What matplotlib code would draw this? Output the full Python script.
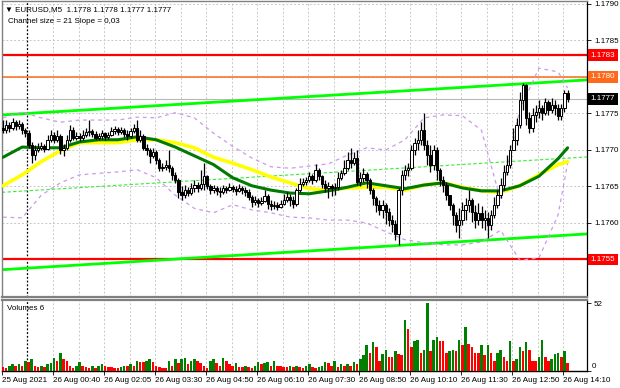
import numpy as np
import matplotlib.pyplot as plt

plt.rcParams['font.family'] = ['Liberation Sans', 'DejaVu Sans']
FS = 5.8

# ---- price data (EURUSD M5) ----
first_open = 1.17730
closes = [
    1.17727, 1.17734, 1.17730, 1.17738, 1.17733, 1.17736, 1.17727, 1.17723, 1.17707, 1.17693,
    1.17700, 1.17703, 1.17705, 1.17701, 1.17714, 1.17721, 1.17714, 1.17719, 1.17700, 1.17703,
    1.17714, 1.17727, 1.17716, 1.17719, 1.17716, 1.17721, 1.17725, 1.17726, 1.17722, 1.17716,
    1.17719, 1.17723, 1.17718, 1.17721, 1.17726, 1.17729, 1.17725, 1.17727, 1.17722, 1.17719,
    1.17726, 1.17730, 1.17714, 1.17719, 1.17703, 1.17700, 1.17692, 1.17697, 1.17686, 1.17675,
    1.17677, 1.17679, 1.17675, 1.17666, 1.17659, 1.17642, 1.17638, 1.17645, 1.17641, 1.17648,
    1.17652, 1.17648, 1.17653, 1.17664, 1.17651, 1.17645, 1.17648, 1.17644, 1.17642, 1.17648,
    1.17645, 1.17649, 1.17647, 1.17644, 1.17648, 1.17645, 1.17642, 1.17636, 1.17629, 1.17631,
    1.17627, 1.17630, 1.17637, 1.17626, 1.17623, 1.17625, 1.17622, 1.17626, 1.17631, 1.17636,
    1.17631, 1.17626, 1.17645, 1.17653, 1.17656, 1.17659, 1.17664, 1.17659, 1.17673, 1.17664,
    1.17653, 1.17648, 1.17651, 1.17648, 1.17649, 1.17662, 1.17668, 1.17675, 1.17686, 1.17682,
    1.17689, 1.17656, 1.17662, 1.17667, 1.17659, 1.17645, 1.17634, 1.17625, 1.17618, 1.17625,
    1.17615, 1.17604, 1.17599, 1.17585, 1.17645, 1.17666, 1.17673, 1.17675, 1.17700, 1.17710,
    1.17714, 1.17727, 1.17707, 1.17693, 1.17679, 1.17700, 1.17673, 1.17659, 1.17652, 1.17638,
    1.17625, 1.17611, 1.17597, 1.17604, 1.17618, 1.17625, 1.17631, 1.17615, 1.17604, 1.17614,
    1.17604, 1.17607, 1.17597, 1.17611, 1.17625, 1.17638, 1.17652, 1.17670, 1.17679, 1.17700,
    1.17714, 1.17734, 1.17768, 1.17789, 1.17744, 1.17730, 1.17748, 1.17752, 1.17757, 1.17751,
    1.17766, 1.17755, 1.17762, 1.17757, 1.17747, 1.17757, 1.17778, 1.17770,
]
highs = [
    1.17741, 1.17741, 1.17738, 1.17744, 1.17741, 1.17741, 1.17738, 1.17730, 1.17727, 1.17711,
    1.17707, 1.17710, 1.17711, 1.17708, 1.17721, 1.17727, 1.17725, 1.17727, 1.17722, 1.17708,
    1.17721, 1.17734, 1.17731, 1.17725, 1.17723, 1.17727, 1.17730, 1.17741, 1.17729, 1.17726,
    1.17723, 1.17727, 1.17725, 1.17725, 1.17731, 1.17733, 1.17731, 1.17731, 1.17730, 1.17727,
    1.17730, 1.17736, 1.17741, 1.17727, 1.17722, 1.17708, 1.17703, 1.17703, 1.17700, 1.17689,
    1.17682, 1.17686, 1.17700, 1.17678, 1.17670, 1.17662, 1.17651, 1.17652, 1.17649, 1.17655,
    1.17659, 1.17656, 1.17673, 1.17682, 1.17666, 1.17653, 1.17652, 1.17651, 1.17649, 1.17652,
    1.17651, 1.17655, 1.17652, 1.17651, 1.17653, 1.17651, 1.17649, 1.17647, 1.17638, 1.17637,
    1.17634, 1.17636, 1.17645, 1.17640, 1.17631, 1.17630, 1.17629, 1.17631, 1.17640, 1.17642,
    1.17640, 1.17637, 1.17648, 1.17662, 1.17662, 1.17663, 1.17670, 1.17667, 1.17681, 1.17675,
    1.17666, 1.17659, 1.17656, 1.17653, 1.17655, 1.17670, 1.17673, 1.17686, 1.17697, 1.17703,
    1.17697, 1.17700, 1.17670, 1.17675, 1.17670, 1.17662, 1.17648, 1.17637, 1.17631, 1.17631,
    1.17627, 1.17620, 1.17611, 1.17604, 1.17648, 1.17673, 1.17679, 1.17682, 1.17707, 1.17716,
    1.17727, 1.17738, 1.17751, 1.17714, 1.17707, 1.17707, 1.17704, 1.17675, 1.17664, 1.17656,
    1.17638, 1.17627, 1.17615, 1.17620, 1.17629, 1.17634, 1.17645, 1.17634, 1.17625, 1.17627,
    1.17623, 1.17618, 1.17615, 1.17618, 1.17636, 1.17645, 1.17662, 1.17679, 1.17693, 1.17707,
    1.17730, 1.17744, 1.17779, 1.17792, 1.17790, 1.17752, 1.17757, 1.17762, 1.17768, 1.17762,
    1.17771, 1.17768, 1.17771, 1.17768, 1.17763, 1.17763, 1.17782, 1.17782,
]
lows = [
    1.17723, 1.17723, 1.17725, 1.17727, 1.17727, 1.17729, 1.17722, 1.17718, 1.17703, 1.17682,
    1.17686, 1.17697, 1.17700, 1.17697, 1.17700, 1.17711, 1.17710, 1.17711, 1.17694, 1.17692,
    1.17700, 1.17711, 1.17714, 1.17714, 1.17712, 1.17714, 1.17718, 1.17719, 1.17718, 1.17714,
    1.17714, 1.17715, 1.17714, 1.17715, 1.17719, 1.17722, 1.17721, 1.17722, 1.17718, 1.17714,
    1.17716, 1.17723, 1.17711, 1.17711, 1.17700, 1.17693, 1.17682, 1.17689, 1.17681, 1.17671,
    1.17671, 1.17673, 1.17670, 1.17659, 1.17655, 1.17634, 1.17631, 1.17634, 1.17637, 1.17638,
    1.17642, 1.17642, 1.17645, 1.17645, 1.17647, 1.17640, 1.17641, 1.17638, 1.17636, 1.17640,
    1.17641, 1.17644, 1.17642, 1.17638, 1.17642, 1.17640, 1.17637, 1.17631, 1.17622, 1.17625,
    1.17622, 1.17625, 1.17629, 1.17619, 1.17618, 1.17619, 1.17618, 1.17620, 1.17625, 1.17629,
    1.17623, 1.17620, 1.17623, 1.17642, 1.17651, 1.17652, 1.17656, 1.17653, 1.17656, 1.17659,
    1.17648, 1.17642, 1.17634, 1.17637, 1.17638, 1.17645, 1.17659, 1.17666, 1.17673, 1.17675,
    1.17679, 1.17652, 1.17651, 1.17656, 1.17648, 1.17640, 1.17625, 1.17615, 1.17611, 1.17607,
    1.17599, 1.17596, 1.17588, 1.17577, 1.17570, 1.17638, 1.17659, 1.17664, 1.17673, 1.17693,
    1.17700, 1.17707, 1.17700, 1.17679, 1.17670, 1.17673, 1.17659, 1.17651, 1.17642, 1.17631,
    1.17618, 1.17597, 1.17588, 1.17579, 1.17597, 1.17604, 1.17615, 1.17601, 1.17593, 1.17597,
    1.17593, 1.17590, 1.17579, 1.17590, 1.17607, 1.17620, 1.17634, 1.17645, 1.17666, 1.17675,
    1.17700, 1.17707, 1.17730, 1.17755, 1.17734, 1.17723, 1.17725, 1.17738, 1.17744, 1.17741,
    1.17748, 1.17748, 1.17751, 1.17748, 1.17741, 1.17741, 1.17752, 1.17766,
]
volumes = [
    3, 2, 4, 5, 4, 5, 4, 8, 7, 9,
    4, 3, 4, 3, 5, 6, 10, 8, 14, 9,
    8, 4, 2, 4, 7, 4, 3, 2, 4, 2,
    4, 5, 4, 3, 3, 2, 2, 3, 4, 4,
    5, 4, 8, 7, 7, 8, 9, 7, 4, 3,
    2, 2, 8, 4, 9, 6, 9, 10, 5, 8,
    9, 8, 6, 4, 2, 8, 9, 6, 4, 10,
    8, 5, 4, 6, 3, 3, 4, 3, 2, 4,
    7, 5, 6, 7, 4, 8, 4, 4, 3, 3,
    4, 3, 4, 3, 2, 4, 5, 3, 2, 3,
    4, 7, 6, 4, 8, 3, 5, 4, 5, 4,
    7, 5, 9, 12, 20, 14, 22, 18, 8, 13,
    16, 11, 11, 15, 13, 12, 39, 32, 18, 23,
    24, 14, 16, 52, 15, 24, 26, 23, 23, 14,
    15, 16, 15, 24, 20, 34, 21, 18, 14, 14,
    20, 12, 20, 14, 8, 14, 16, 11, 8, 23,
    8, 9, 18, 15, 22, 16, 8, 8, 11, 24,
    11, 8, 9, 13, 14, 11, 15, 6,
]

# indicator lines, sampled every 6 bars
ind_bars = [0, 6, 12, 18, 24, 30, 36, 42, 48, 54, 60, 66, 72, 78, 84, 90,
            96, 102, 108, 114, 120, 126, 132, 138, 144, 150, 156, 162, 168, 174, 177]
ma_green = [1.17690, 1.17704, 1.17703, 1.17703, 1.17711, 1.17714, 1.17714, 1.17718,
            1.17714, 1.17704, 1.17692, 1.17680, 1.17662, 1.17651, 1.17645, 1.17641,
            1.17640, 1.17644, 1.17649, 1.17655, 1.17651, 1.17647, 1.17652, 1.17655,
            1.17648, 1.17644, 1.17644, 1.17651, 1.17664, 1.17688, 1.17703]
ma_yellow = [1.17651, 1.17666, 1.17684, 1.17699, 1.17710, 1.17710, 1.17710, 1.17714,
             1.17714, 1.17710, 1.17703, 1.17690, 1.17682, 1.17673, 1.17663, 1.17655,
             1.17647, 1.17645, 1.17648, 1.17649, 1.17649, 1.17645, 1.17652, 1.17655,
             1.17649, 1.17644, 1.17642, 1.17651, 1.17666, 1.17680, 1.17684]
bb_upper = [1.17744, 1.17752, 1.17744, 1.17738, 1.17741, 1.17741, 1.17741, 1.17745,
            1.17744, 1.17751, 1.17744, 1.17723, 1.17705, 1.17689, 1.17677, 1.17675,
            1.17678, 1.17681, 1.17693, 1.17703, 1.17700, 1.17714, 1.17744, 1.17748,
            1.17747, 1.17727, 1.17631, 1.17755, 1.17812, 1.17807, 1.17785]
bb_lower = [1.17608, 1.17607, 1.17638, 1.17655, 1.17666, 1.17668, 1.17670, 1.17673,
            1.17662, 1.17638, 1.17620, 1.17614, 1.17625, 1.17618, 1.17614, 1.17608,
            1.17607, 1.17604, 1.17604, 1.17600, 1.17588, 1.17577, 1.17573, 1.17570,
            1.17570, 1.17574, 1.17590, 1.17549, 1.17552, 1.17611, 1.17682]

# channel (left edge, right edge) and horizontal levels
chan_upper = [1.17748, 1.17796]
chan_lower = [1.17536, 1.17585]
level_red = [1.1783, 1.1755]
level_orange = 1.1780
last_price = 1.1777

price_ticks = [1.1790, 1.1785, 1.1775, 1.1770, 1.1765, 1.1760]
time_labels = ['26 Aug 00:40', '26 Aug 02:05', '26 Aug 03:30', '26 Aug 04:50',
               '26 Aug 06:10', '26 Aug 07:30', '26 Aug 08:50', '26 Aug 10:10',
               '26 Aug 11:30', '26 Aug 12:50', '26 Aug 14:10']

# ---- figure ----
W, H = 620, 388
fig = plt.figure(figsize=(W / 100, H / 100), dpi=100)


def px_axes(x0, y0, x1, y1):
    return fig.add_axes([x0 / W, 1 - y1 / H, (x1 - x0) / W, (y1 - y0) / H])


ax = px_axes(2, 1, 587, 297)
axv = px_axes(2, 299.5, 587, 371)

closes = np.array(closes)
opens = np.concatenate([[first_open], closes[:-1]])
highs = np.maximum(highs, np.maximum(opens, closes))
lows = np.minimum(lows, np.minimum(opens, closes))
n = len(closes)
bars = np.arange(n)
xlim = (-0.31, 183.07)

grid_x = np.arange(15.7, n, 8)
label_x = grid_x[::2]
sep_x = 7.5
grid_kw = dict(color='#c8c8c8', lw=0.7, ls=(0, (2, 2)), zorder=0)

# main price panel
for gx in grid_x:
    ax.axvline(gx, **grid_kw)
for p in [1.1790, 1.1785, 1.1780, 1.1775, 1.1770, 1.1765, 1.1760, 1.1755]:
    ax.axhline(p, **grid_kw)
ax.axvline(sep_x, color='black', lw=0.9, ls=(0, (1.5, 1.5)), zorder=1)

ax.axhline(last_price, color='#b8b8b8', lw=0.8, zorder=1)
for p in level_red:
    ax.axhline(p, color='#ff0000', lw=1.6, zorder=2)
ax.axhline(level_orange, color='#ff6a1a', lw=1.1, zorder=2)

ax.plot(xlim, chan_upper, color='#00ff00', lw=2.0, zorder=2)
ax.plot(xlim, chan_lower, color='#00ff00', lw=2.0, zorder=2)
ax.plot(xlim, [(a + b) / 2 for a, b in zip(chan_upper, chan_lower)],
        color='#33ee33', lw=0.8, ls=(0, (3, 2)), zorder=2)

ax.plot(ind_bars, bb_upper, color='#cc99ee', lw=0.9, ls=(0, (3, 3)), zorder=3)
ax.plot(ind_bars, bb_lower, color='#cc99ee', lw=0.9, ls=(0, (3, 3)), zorder=3)
ax.plot(ind_bars, ma_yellow, color='#ffff00', lw=2.6, zorder=3, solid_capstyle='round')
ax.plot(ind_bars, ma_green, color='#007a00', lw=2.2, zorder=4, solid_capstyle='round')

# candles
ax.vlines(bars, lows, highs, color='black', lw=0.9, zorder=5)
up = closes >= opens
body_lo = np.minimum(opens, closes)
body_h = np.maximum(np.abs(closes - opens), 0.000012)
ax.bar(bars[up], body_h[up], bottom=body_lo[up], width=0.74, color='white',
       edgecolor='black', lw=0.7, zorder=6)
ax.bar(bars[~up], body_h[~up], bottom=body_lo[~up], width=0.74, color='black',
       edgecolor='black', lw=0.7, zorder=6)

ax.set_xlim(*xlim)
ax.set_ylim(1.174986, 1.179041)
ax.set_xticks([])
ax.yaxis.tick_right()
ax.set_yticks(price_ticks)
ax.set_yticklabels(['%.4f' % p for p in price_ticks], fontsize=FS)
ax.tick_params(axis='y', length=3, width=0.6, pad=2, colors='black')

trans = ax.get_yaxis_transform()
boxes = [(1.1783, '#ff0000'), (1.1780, '#ff6a1a'), (1.1777, '#000000'), (1.1755, '#ff0000')]
for p, c in boxes:
    ax.text(1.0065, p, '%.4f' % p, transform=trans, fontsize=FS, color='white',
            va='center', ha='left', clip_on=False,
            bbox=dict(boxstyle='square,pad=0.3', fc=c, ec='none'))

ax.text(0.005, 0.982, '\u25bc EURUSD,M5  1.1778 1.1778 1.1777 1.1777',
        transform=ax.transAxes, fontsize=FS, va='top', ha='left')
ax.text(0.011, 0.944, 'Channel size = 21 Slope = 0,03', transform=ax.transAxes,
        fontsize=FS, va='top', ha='left')

# volume panel
vols = np.array(volumes)
vcol = ['#ff0000'] + ['#008000' if vols[i] > vols[i - 1] else '#ff0000' for i in range(1, n)]
for gx in grid_x:
    axv.axvline(gx, **grid_kw)
axv.axvline(sep_x, color='black', lw=0.9, ls=(0, (1.5, 1.5)), zorder=1)
axv.bar(bars, vols, width=0.8, color=vcol, zorder=3)
axv.set_xlim(*xlim)
axv.set_ylim(0, 54.7)
axv.yaxis.tick_right()
axv.set_yticks([0, 52])
axv.set_yticklabels(['', '52'], fontsize=FS)
axv.tick_params(axis='y', length=3, width=0.6, pad=2)
axv.text(1.0085, 5 / 71.5, '0', transform=axv.transAxes, fontsize=FS,
         va='center', ha='left')
axv.set_xticks(np.concatenate([[-0.31], label_x]))
axv.set_xticklabels(['25 Aug 2021'] + time_labels, fontsize=FS, ha='left')
axv.tick_params(axis='x', length=3, width=0.6, pad=1.5)
axv.text(0.008, 0.92, 'Volumes 6', transform=axv.transAxes, fontsize=FS,
         va='top', ha='left')

for a in (ax, axv):
    for s in ('left', 'top', 'bottom'):
        a.spines[s].set_color('#808080')
        a.spines[s].set_linewidth(1.0)
    a.spines['right'].set_color('black')
    a.spines['right'].set_linewidth(0.9)
ax.spines['bottom'].set_linewidth(1.6)
axv.spines['top'].set_linewidth(1.6)
axv.spines['bottom'].set_color('black')

fig.savefig('out.png', dpi=100, facecolor='white')
